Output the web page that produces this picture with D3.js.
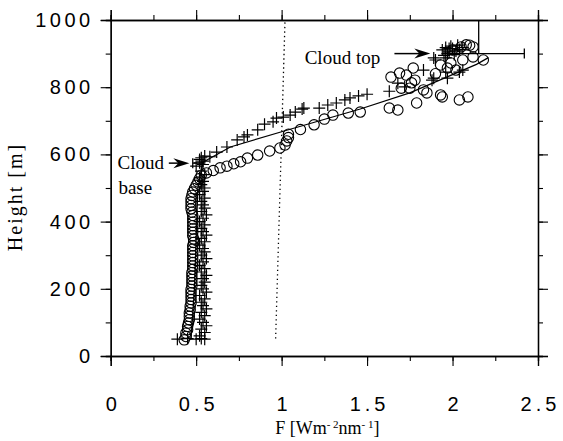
<!DOCTYPE html>
<html>
<head>
<meta charset="utf-8">
<script src="https://cdn.jsdelivr.net/npm/d3@7"></script>
<style>
  body { margin: 0; background: #fff; }
  .tick-label { font-family: "Liberation Sans", Arial, sans-serif; font-size: 20px; letter-spacing: 3px; fill: #000; }
  .serif { font-family: "Liberation Serif", "Times New Roman", serif; fill: #000; }
</style>
</head>
<body>
<div id="chart"></div>
<script>
var margin = { top: 20, right: 25, bottom: 85, left: 110.7 },
    width = 563 - margin.left - margin.right,
    height = 441 - margin.top - margin.bottom;

// circles (open markers)
let circleF = [0.43,0.44,0.44,0.45,0.45,0.455,0.46,0.46,0.46,0.465,0.465,0.47,0.47,0.47,0.47,0.47,0.475,0.475,0.475,0.475,
    0.475,0.48,0.48,0.48,0.48,0.48,0.48,0.48,0.48,0.485,0.485,0.48,0.48,0.48,0.48,0.48,0.48,0.48,0.475,0.47,
    0.47,0.47,0.47,0.475,0.48,0.49,0.5,0.51,0.52,0.53,
    0.56,0.60,0.64,0.68,0.72,0.76,0.80,0.86,0.93,0.99,1.02,1.03,1.04,1.04,1.11,1.19,1.25,1.30,1.39,1.46,
    1.63,1.68,1.79,1.85,1.93,1.94,2.04,2.09,
    1.64,1.69,1.73,1.78,1.77,1.76,1.70,1.75,1.83,1.93,1.99,2.06,2.12,2.18,2.08,2.12,2.00,2.02,2.05,2.10,1.97,1.90]
let circleH = [48,58,68,78,88,98,108,118,128,138,148,158,168,178,188,198,208,218,228,238,
    248,258,268,278,288,298,308,318,328,338,348,358,368,378,388,398,408,418,428,438,
    448,458,468,478,488,498,508,518,528,538,
    545,552,560,565,572,578,589,598,610,619,628,640,650,660,674,688,705,717,723,726,
    738,732,753,783,777,771,762,771,
    830,842,836,821,857,813,797,797,792,866,872,881,890,881,926,920,911,851,920,925,857,840]

// plus markers
let plusF = [0.39,0.45,0.50,0.53,0.55,
    0.52,0.55,0.53,0.56,0.54,0.52,0.55,0.53,0.56,0.54,0.53,0.55,0.52,0.56,0.54,0.53,0.55,0.54,0.56,0.53,
    0.55,0.52,0.54,0.56,0.53,0.55,0.54,0.52,0.55,0.53,0.56,0.54,0.53,0.55,0.52,0.54,0.56,0.53,0.55,0.54,
    0.53,0.55,0.52,0.54,0.55,0.53,0.54,0.52,0.55,0.53,
    0.50,0.52,0.54,0.53,0.55,0.52,0.54,
    0.58,0.62,0.68,0.74,0.78,0.80,0.86,0.90,0.95,0.97,1.01,1.05,1.08,1.12,1.13,1.22,1.27,1.32,1.37,1.40,
    1.45,1.50,1.63,1.68,1.72,1.83,1.89,1.96,2.06,1.90,1.89,1.96,1.97,2.04,1.88,
    1.94,1.96,1.98,2.00,2.02,1.97,1.99,2.01,2.04,1.95,2.03,2.06,1.98]
let plusH = [50,52,50,52,50,
    60,70,80,90,100,110,120,130,140,150,160,170,180,190,200,210,220,230,240,250,
    260,270,280,290,300,310,320,330,340,350,360,370,380,390,400,410,420,430,440,450,
    460,470,480,490,500,510,520,530,540,550,
    565,575,580,590,595,585,570,
    593,607,622,643,652,658,673,690,697,708,711,717,726,735,738,738,747,753,762,768,
    774,779,788,812,801,851,827,845,851,881,887,887,827,845,821,
    911,918,905,915,908,900,922,897,912,895,925,918,915]

// model curve
let modelF = [0.47,0.49,0.50,0.51,0.54,0.70,1.03,1.46,1.75,2.14,2.21]
let modelH = [50,200,350,500,577,622,672,735,783,868,888]

// dotted reference line
let refF = [0.965,1.02]
let refH = [52,1000]

// cloud top / base bars
let topBarF = [2.0,2.42], topBarH = 900
let topVertF = 2.153, topVertH = [900,1000]
let baseBarF = [0.48,0.55], baseBarH = 574

let xTicks = [0,0.5,1,1.5,2,2.5]
let yTicks = [0,200,400,600,800,1000]

let xScale = d3.scaleLinear().domain([0,2.5]).range([0,width])
let yScale = d3.scaleLinear().domain([0,1000]).range([height,0])

let svg = d3.select("#chart")
    .append("svg")
    .attr("width", 563)
    .attr("height", 441)
    .append("g")
    .attr("transform", "translate(" + margin.left + "," + margin.top + ")")

// axes: major + minor ticks, outward, on all four sides
function minor(axis, vals) { return axis.tickValues(vals).tickSize(5).tickFormat("") }
let xMinor = d3.range(0, 2.51, 0.25), yMinor = d3.range(0, 1001, 100)

svg.append("g").attr("transform", "translate(0," + height + ")")
    .call(minor(d3.axisBottom(xScale), xMinor))
svg.append("g").attr("transform", "translate(0," + height + ")")
    .call(d3.axisBottom(xScale).tickValues(xTicks).tickSize(10).tickPadding(31).tickFormat(d3.format("")))
    .selectAll("text").attr("class", "tick-label").style("letter-spacing", "4px").attr("dx", "2px")
svg.append("g").call(minor(d3.axisTop(xScale), xMinor))
svg.append("g").call(d3.axisTop(xScale).tickValues(xTicks).tickSize(10).tickFormat(""))

svg.append("g").call(minor(d3.axisLeft(yScale), yMinor))
svg.append("g").call(d3.axisLeft(yScale).tickValues(yTicks).tickSize(10).tickPadding(7).tickFormat(d3.format("d")))
    .selectAll("text").attr("class", "tick-label").style("letter-spacing", "3.5px")
svg.append("g").attr("transform", "translate(" + width + ",0)").call(minor(d3.axisRight(yScale), yMinor))
svg.append("g").attr("transform", "translate(" + width + ",0)")
    .call(d3.axisRight(yScale).tickValues(yTicks).tickSize(10).tickFormat(""))

svg.selectAll(".domain").attr("stroke", "#000").attr("stroke-width", 1.3)
svg.selectAll(".tick line").attr("stroke", "#000").attr("stroke-width", 1.1)

// dotted line
svg.append("line")
    .attr("x1", xScale(refF[0])).attr("y1", yScale(refH[0]))
    .attr("x2", xScale(refF[1])).attr("y2", yScale(refH[1]))
    .attr("stroke", "#000").attr("stroke-width", 1.3).attr("stroke-dasharray", "1.3,3.2")

// model curve
let line = d3.line().x(d => xScale(d[0])).y(d => yScale(d[1]))
svg.append("path")
    .datum(modelF.map((f, i) => [f, modelH[i]]))
    .attr("d", line)
    .attr("fill", "none").attr("stroke", "#000").attr("stroke-width", 1.2)

// circles
svg.append("g").selectAll("circle")
    .data(circleF.map((f, i) => [f, circleH[i]]))
    .enter().append("circle")
    .attr("cx", d => xScale(d[0])).attr("cy", d => yScale(d[1]))
    .attr("r", 5.2)
    .attr("fill", "none").attr("stroke", "#000").attr("stroke-width", 1.1)

// pluses
svg.append("g").selectAll("path")
    .data(plusF.map((f, i) => [f, plusH[i]]))
    .enter().append("path")
    .attr("transform", d => "translate(" + xScale(d[0]) + "," + yScale(d[1]) + ")")
    .attr("d", "M-6,0H6M0,-6V6")
    .attr("stroke", "#000").attr("stroke-width", 1.2)

// cloud top bar
let bars = svg.append("g").attr("stroke", "#000").attr("stroke-width", 1.3)
bars.append("line")
    .attr("x1", xScale(topBarF[0])).attr("x2", xScale(topBarF[1]))
    .attr("y1", yScale(topBarH)).attr("y2", yScale(topBarH))
bars.append("line")
    .attr("x1", xScale(topBarF[1])).attr("x2", xScale(topBarF[1]))
    .attr("y1", yScale(topBarH) - 5).attr("y2", yScale(topBarH) + 5)
bars.append("line")
    .attr("x1", xScale(topVertF)).attr("x2", xScale(topVertF))
    .attr("y1", yScale(topVertH[0])).attr("y2", yScale(topVertH[1]))
// cloud base bar
bars.append("line")
    .attr("x1", xScale(baseBarF[0])).attr("x2", xScale(baseBarF[1]))
    .attr("y1", yScale(baseBarH)).attr("y2", yScale(baseBarH))
bars.append("line")
    .attr("x1", xScale(baseBarF[0])).attr("x2", xScale(baseBarF[0]))
    .attr("y1", yScale(baseBarH) - 5).attr("y2", yScale(baseBarH) + 5)

// arrows
function arrow(x1, y1, x2, y2) {
    svg.append("line").attr("x1", x1).attr("y1", y1).attr("x2", x2 - 10).attr("y2", y2)
        .attr("stroke", "#000").attr("stroke-width", 1.5)
    svg.append("path")
        .attr("d", "M" + x2 + "," + y2 + "L" + (x2 - 16) + "," + (y2 - 5) + "L" + (x2 - 11) + "," + y2 + "L" + (x2 - 16) + "," + (y2 + 5) + "Z")
        .attr("fill", "#000")
}
arrow(xScale(1.66), yScale(topBarH), xScale(1.87), yScale(topBarH))
arrow(xScale(0.34), yScale(baseBarH), xScale(0.46), yScale(baseBarH))

// annotation text
svg.append("text").attr("class", "serif")
    .attr("x", xScale(1.135)).attr("y", yScale(topBarH) + 10)
    .style("font-size", "19px")
    .text("Cloud top")
svg.append("text").attr("class", "serif")
    .attr("x", xScale(0.04)).attr("y", yScale(baseBarH) + 6)
    .style("font-size", "19px")
    .text("Cloud")
svg.append("text").attr("class", "serif")
    .attr("x", xScale(0.045)).attr("y", yScale(baseBarH) + 31)
    .style("font-size", "19px")
    .text("base")

// axis titles
let xt = svg.append("text").attr("class", "serif")
    .attr("x", width / 2 + 3).attr("y", height + 78)
    .attr("text-anchor", "middle")
    .style("font-size", "18px")
xt.append("tspan").text("F [Wm")
xt.append("tspan").attr("dy", -6).style("font-size", "11px").text("- 2")
xt.append("tspan").attr("dy", 6).text("nm")
xt.append("tspan").attr("dy", -6).style("font-size", "11px").text("- 1")
xt.append("tspan").attr("dy", 6).text("]")

svg.append("text").attr("class", "serif")
    .attr("transform", "rotate(-90)")
    .attr("x", -(197 - margin.top))
    .attr("y", -margin.left + 22)
    .attr("text-anchor", "middle")
    .style("font-size", "20px")
    .style("letter-spacing", "2px")
    .text("Height [m]")
</script>
</body>
</html>
